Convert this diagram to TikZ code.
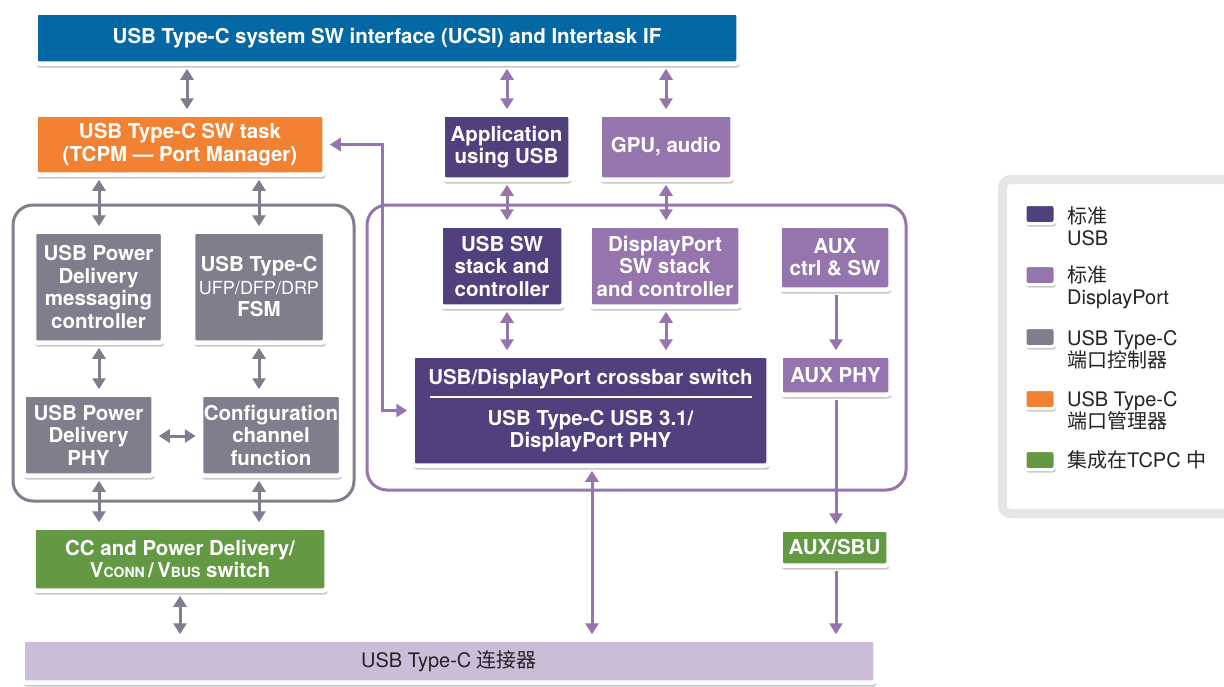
\documentclass[tikz,border=0pt]{standalone}
\usepackage{fontspec}
\setmainfont{TeX Gyre Heros}
\newfontfamily\cjk{Noto Sans CJK SC}
\usetikzlibrary{arrows.meta,shadows}
\definecolor{cblue}{RGB}{4,104,164}
\definecolor{corange}{RGB}{242,130,50}
\definecolor{cdpurple}{RGB}{82,63,125}
\definecolor{clpurple}{RGB}{150,116,174}
\definecolor{cgray}{RGB}{128,126,140}
\definecolor{cgreen}{RGB}{99,153,66}
\definecolor{cconn}{RGB}{203,188,216}
\definecolor{clegend}{RGB}{229,229,229}
\definecolor{ctext}{RGB}{35,35,35}
\tikzset{
  box/.style={fill=#1, draw=white, line width=4.5pt, rounded corners=3pt, text=white,
    font=\bfseries\fontsize{20.5}{22.5}\selectfont, align=center, inner sep=0pt,
    drop shadow={shadow xshift=1pt, shadow yshift=-4pt, opacity=0.22, fill=black}},
  swatch/.style={fill=#1, draw=white, line width=3pt, rounded corners=3pt,
    minimum width=30pt, minimum height=19pt, inner sep=0pt,
    drop shadow={shadow xshift=1pt, shadow yshift=-3pt, opacity=0.22, fill=black}},
  cont/.style={draw=#1, line width=3pt, rounded corners=20pt, inner sep=0pt},
  garr/.style={draw=cgray, line width=3pt, {Triangle[length=11pt,width=13pt]}-{Triangle[length=11pt,width=13pt]}, shorten <=3pt, shorten >=3pt},
  parr/.style={draw=clpurple, line width=3pt, {Triangle[length=11pt,width=13pt]}-{Triangle[length=11pt,width=13pt]}, shorten <=3pt, shorten >=3pt},
  sarr/.style={draw=clpurple, line width=3pt, -{Triangle[length=11pt,width=13pt]}, shorten <=3pt, shorten >=3pt},
  legtext/.style={anchor=west, align=left, text=ctext, font=\fontsize{20}{22}\selectfont, inner sep=0pt},
}
\begin{document}
\begin{tikzpicture}[x=1pt,y=-1pt]
\useasboundingbox (0,0) rectangle (1224,686);
% containers
\node[cont=cgray, minimum width=341pt, minimum height=296pt] (gbox) at (183.5,353) {};
\node[cont=clpurple, minimum width=539pt, minimum height=285pt] (pbox) at (636.5,347.5) {};
% boxes
\node[box=cblue, minimum width=703pt, minimum height=51pt] (top) at (387,38) {USB Type-C system SW interface (UCSI) and Intertask IF};
\node[box=corange, minimum width=289pt, minimum height=60pt] (tcpm) at (180,144.5) {USB Type-C SW task\\(TCPM --- Port Manager)};
\node[box=cdpurple, minimum width=128pt, minimum height=65pt] (app) at (506.5,147) {Application\\using USB};
\node[box=clpurple, minimum width=133pt, minimum height=65pt] (gpu) at (666,147) {GPU, audio};
\node[box=cgray, minimum width=129pt, minimum height=111pt] (pdmsg) at (98.5,287) {USB Power\\Delivery\\messaging\\controller};
\node[box=cgray, minimum width=132pt, minimum height=111pt] (fsm) at (259,287) {USB Type-C\\{\mdseries\fontsize{18}{22.5}\selectfont UFP/DFP/DRP}\\FSM};
\node[box=cgray, minimum width=130pt, minimum height=81pt] (pdphy) at (88.5,435) {USB Power\\Delivery\\PHY};
\node[box=cgray, minimum width=140pt, minimum height=81pt] (ccf) at (271,435) {Configuration\\channel\\function};
\node[box=cdpurple, minimum width=123pt, minimum height=81pt] (usbsw) at (502,266) {USB SW\\stack and\\controller};
\node[box=clpurple, minimum width=151pt, minimum height=81pt] (dpsw) at (665,266) {DisplayPort\\SW stack\\and controller};
\node[box=clpurple, minimum width=111pt, minimum height=64pt] (auxctl) at (835,257.5) {AUX\\ctrl \& SW};
\node[box=cdpurple, minimum width=356pt, minimum height=110pt] (xbar) at (590.5,410.5) {};
\node[text=white, font=\bfseries\fontsize{20.5}{22.5}\selectfont, inner sep=0pt] (xbart) at (590.5,379) {USB/DisplayPort crossbar switch};
\draw[white, line width=2pt] (430,397) -- (752,397);
\node[text=white, font=\bfseries\fontsize{20.5}{22.5}\selectfont, align=center, inner sep=0pt] (xbarb) at (590.5,431) {USB Type-C USB 3.1/\\DisplayPort PHY};
\node[box=clpurple, minimum width=110pt, minimum height=39pt] (auxphy) at (835.5,375) {AUX PHY};
\node[box=cgreen, minimum width=293pt, minimum height=63pt] (ccsw) at (180,559) {CC and Power Delivery/\\V{\fontsize{14}{14}\selectfont CONN}\,/\,V{\fontsize{14}{14}\selectfont BUS} switch};
\node[box=cgreen, minimum width=108pt, minimum height=36pt] (auxsbu) at (834.5,547.5) {AUX/SBU};
\node[box=cconn, minimum width=853pt, minimum height=43pt, text=ctext, font=\fontsize{20}{22}\selectfont] (conn) at (449,661) {USB Type-C {\cjk 连接器}};
% column coordinates
\coordinate (xa) at (187,0);
\coordinate (xb) at (99,0);
\coordinate (xc) at (259,0);
\coordinate (xd) at (180,0);
\coordinate (xe) at (507,0);
\coordinate (xf) at (666,0);
\coordinate (xg) at (836,0);
\coordinate (xh) at (592,0);
\coordinate (xk) at (382,0);
\coordinate (yb) at (0,436);
% arrows
\draw[garr] (xa |- top.south) -- (xa |- tcpm.north);
\draw[parr] (xe |- top.south) -- (xe |- app.north);
\draw[parr] (xf |- top.south) -- (xf |- gpu.north);
\draw[garr] (xb |- tcpm.south) -- (xb |- pdmsg.north);
\draw[garr] (xc |- tcpm.south) -- (xc |- fsm.north);
\draw[garr] (xb |- pdmsg.south) -- (xb |- pdphy.north);
\draw[garr] (xc |- fsm.south) -- (xc |- ccf.north);
\draw[garr] (pdphy.east |- yb) -- (ccf.west |- yb);
\draw[garr] (xb |- pdphy.south) -- (xb |- ccsw.north);
\draw[garr] (xc |- ccf.south) -- (xc |- ccsw.north);
\draw[garr] (xd |- ccsw.south) -- (xd |- conn.north);
\draw[parr] (xe |- app.south) -- (xe |- usbsw.north);
\draw[parr] (xf |- gpu.south) -- (xf |- dpsw.north);
\draw[parr] (xe |- usbsw.south) -- (xe |- xbar.north);
\draw[parr] (xf |- dpsw.south) -- (xf |- xbar.north);
\draw[parr] (xh |- xbar.south) -- (xh |- conn.north);
\draw[sarr] (xg |- auxctl.south) -- (xg |- auxphy.north);
\draw[sarr] (xg |- auxphy.south) -- (xg |- auxsbu.north);
\draw[sarr] (xg |- auxsbu.south) -- (xg |- conn.north);
\draw[parr, rounded corners=0pt] (tcpm.east) -| (xk |- xbar.west) -- (xbar.west);
% legend
\node[draw=clegend, fill=white, line width=9pt, rounded corners=8pt, minimum width=240pt, minimum height=334pt, inner sep=0pt] (legend) at (1122.5,346.5) {};
\node[swatch=cdpurple] (s1) at (1040,214) {};
\node[swatch=clpurple] (s2) at (1040,275) {};
\node[swatch=cgray] (s3) at (1040,337) {};
\node[swatch=corange] (s4) at (1040,399) {};
\node[swatch=cgreen] (s5) at (1040,460) {};
\node[legtext] (l1) at (1067,226) {{\cjk 标准}\\USB};
\node[legtext] (l2) at (1067,287) {{\cjk 标准}\\DisplayPort};
\node[legtext] (l3) at (1067,350) {USB Type-C\\{\cjk 端口控制器}};
\node[legtext] (l4) at (1067,411) {USB Type-C\\{\cjk 端口管理器}};
\node[legtext] (l5) at (1067,460) {{\cjk 集成在}TCPC {\cjk 中}};
\end{tikzpicture}
\end{document}
